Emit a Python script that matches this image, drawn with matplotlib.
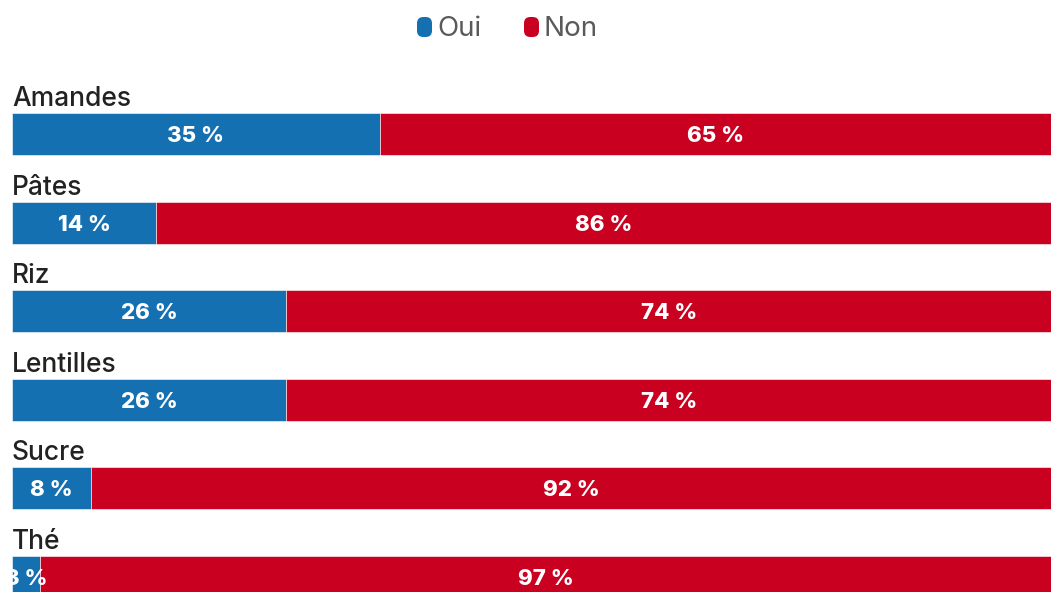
import matplotlib
matplotlib.use("Agg")
import matplotlib.pyplot as plt
from matplotlib.patches import FancyBboxPatch
import numpy as np

plt.rcParams['font.family'] = ['Inter', 'DejaVu Sans']

categories = ["Amandes", "Pâtes", "Riz", "Lentilles", "Sucre", "Thé"]
oui = [35.4, 13.9, 26.4, 26.4, 7.6, 2.7]
non = [64.6, 86.1, 73.6, 73.6, 92.4, 97.3]
series_names = ["Oui", "Non"]
colors = ["#1570b2", "#c9001f"]

W, H = 1051, 592
fig = plt.figure(figsize=(W / 100, H / 100), dpi=100)
fig.patch.set_facecolor("white")

left_px, right_px = 12, 1051
ax = fig.add_axes([left_px / W, 0, (right_px - left_px) / W, 1])
ax.set_xlim(0, 100)
first_c, step = 134, 88.6
ax.set_ylim((H - first_c) / step, -first_c / step)
ax.axis("off")

y = np.arange(len(categories))
bh = 42 / step
ax.barh(y, oui, height=bh, color=colors[0], edgecolor="white", linewidth=0.4)
ax.barh(y, non, left=oui, height=bh, color=colors[1], edgecolor="white", linewidth=0.4)

for i, (name, o, n) in enumerate(zip(categories, oui, non)):
    ax.text(0, i - 28 / step, name, ha="left", va="baseline", fontsize=19,
            fontweight="medium", color="#222222", clip_on=False)
    ax.text(o / 2, i + 8 / step, f"{round(o)} %", ha="center", va="baseline",
            fontsize=16, fontweight="heavy", color="white", clip_on=True)
    ax.text(o + n / 2, i + 8 / step, f"{round(n)} %", ha="center", va="baseline",
            fontsize=16, fontweight="heavy", color="white", clip_on=True)

# legend
legend_items = [(series_names[0], colors[0], 417), (series_names[1], colors[1], 524)]
for label, col, x0 in legend_items:
    box = FancyBboxPatch((x0 / W, (H - 37) / H), 15 / W, 20 / H,
                         boxstyle="round,pad=0,rounding_size=0.006",
                         transform=fig.transFigure, facecolor=col,
                         edgecolor="none", mutation_aspect=W / H)
    fig.patches.append(box)
    fig.text((x0 + 20) / W, (H - 36) / H, label, ha="left", va="baseline",
             fontsize=20, color="#5a5a5a")

fig.savefig("out.png", dpi=100, facecolor="white")
